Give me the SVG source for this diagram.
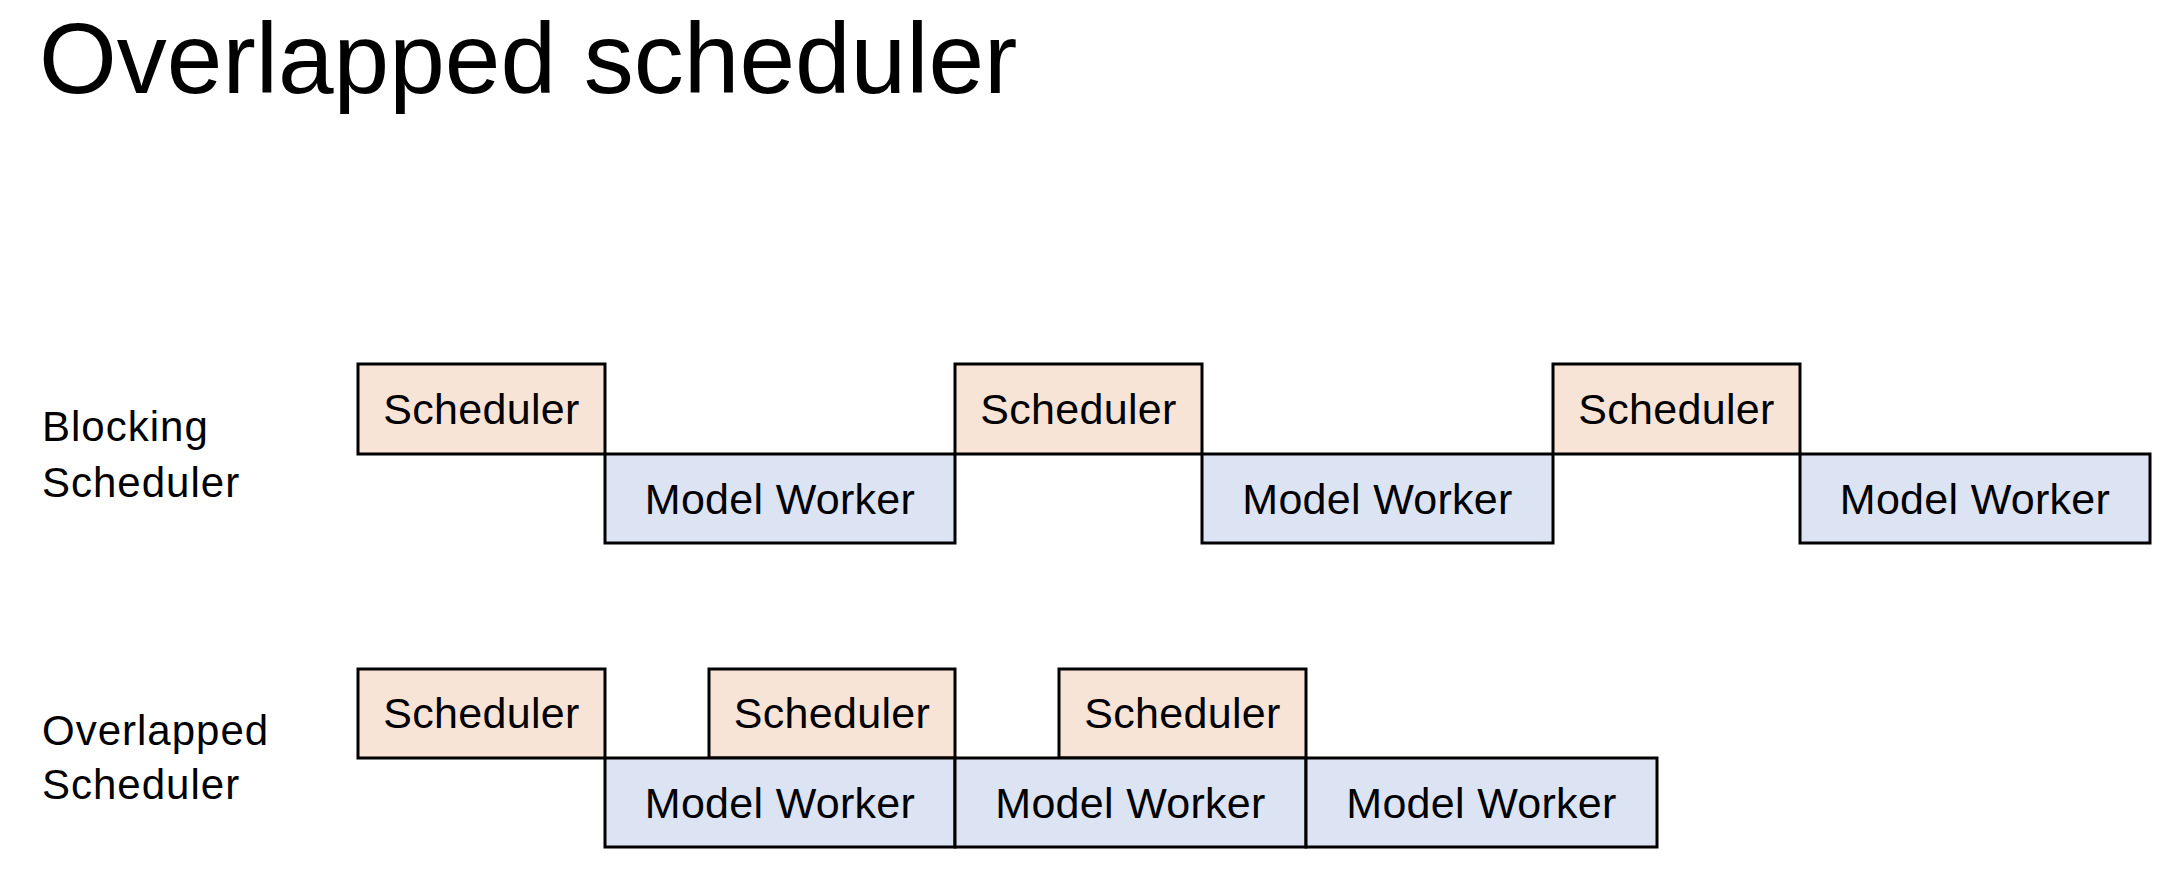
<svg xmlns="http://www.w3.org/2000/svg" width="2176" height="880" viewBox="0 0 2176 880">
<style>
.s{fill:#F7E4D6;stroke:#000;stroke-width:3}
.m{fill:#DCE3F2;stroke:#000;stroke-width:3}
.t{font-family:"Liberation Sans",Arial,sans-serif;font-size:43px;fill:#000;text-anchor:middle;letter-spacing:0.3px}
.l{font-family:"Liberation Sans",Arial,sans-serif;font-size:42px;fill:#000;letter-spacing:1px}
.h{font-family:"Liberation Sans",Arial,sans-serif;font-size:100px;fill:#000}
</style>
<rect width="2176" height="880" fill="#fff"/>
<text class="h" x="39" y="93">Overlapped scheduler</text>
<g id="label-blocking"><text class="l" x="42" y="441">Blocking</text><text class="l" x="42" y="497">Scheduler</text></g>
<g id="label-overlapped"><text class="l" x="42" y="745">Overlapped</text><text class="l" x="42" y="799">Scheduler</text></g>

<g id="b-s1"><rect class="s" x="358" y="364" width="247" height="90"/><text class="t" x="481.5" y="424">Scheduler</text></g>
<g id="b-m1"><rect class="m" x="605" y="454" width="350" height="89"/><text class="t" x="780" y="514">Model Worker</text></g>
<g id="b-s2"><rect class="s" x="955" y="364" width="247" height="90"/><text class="t" x="1078.5" y="424">Scheduler</text></g>
<g id="b-m2"><rect class="m" x="1202" y="454" width="351" height="89"/><text class="t" x="1377.5" y="514">Model Worker</text></g>
<g id="b-s3"><rect class="s" x="1553" y="364" width="247" height="90"/><text class="t" x="1676.5" y="424">Scheduler</text></g>
<g id="b-m3"><rect class="m" x="1800" y="454" width="350" height="89"/><text class="t" x="1975" y="514">Model Worker</text></g>

<g id="o-s1"><rect class="s" x="358" y="669" width="247" height="89"/><text class="t" x="481.5" y="728">Scheduler</text></g>
<g id="o-s2"><rect class="s" x="709" y="669" width="246" height="89"/><text class="t" x="832" y="728">Scheduler</text></g>
<g id="o-s3"><rect class="s" x="1059" y="669" width="247" height="89"/><text class="t" x="1182.5" y="728">Scheduler</text></g>
<g id="o-m1"><rect class="m" x="605" y="758" width="350" height="89"/><text class="t" x="780" y="818">Model Worker</text></g>
<g id="o-m2"><rect class="m" x="955" y="758" width="351" height="89"/><text class="t" x="1130.5" y="818">Model Worker</text></g>
<g id="o-m3"><rect class="m" x="1306" y="758" width="351" height="89"/><text class="t" x="1481.5" y="818">Model Worker</text></g>
<g id="connectors"></g>
</svg>
